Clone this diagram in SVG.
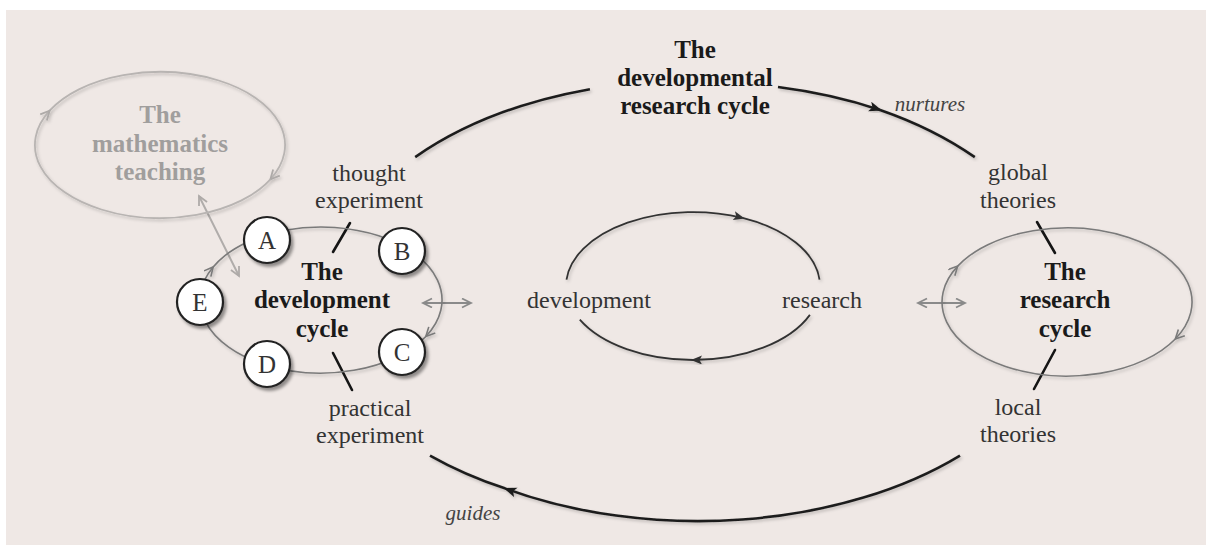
<svg xmlns="http://www.w3.org/2000/svg" width="1206" height="545" viewBox="0 0 1206 545">
<style>
  text { font-family: "Liberation Serif", "DejaVu Serif", serif; text-anchor: middle; }
  .lbl { font-size: 24px; fill: #333; }
  .ttl { font-size: 25px; font-weight: bold; fill: #1a1a1a; }
  .gry { font-size: 25px; font-weight: bold; fill: #a09e9d; }
  .ita { font-size: 21px; font-style: italic; fill: #444; }
  .ltr { font-size: 25px; fill: #333; }
  .big { fill: none; stroke: #1e1e1e; stroke-width: 2.6; }
  .mid { fill: none; stroke: #333; stroke-width: 1.8; }
  .cyc { fill: none; stroke: #7a7a7a; stroke-width: 1.6; }
  .pale { fill: none; stroke: #b8b4b2; stroke-width: 1.8; }
  .slash { stroke: #151515; stroke-width: 2.6; stroke-linecap: round; }
  .dbl { stroke: #8a8a8a; stroke-width: 1.8; fill: none; }
  .node { fill: #fff; stroke: #222; stroke-width: 2.2; }
</style>
<defs>
  <filter id="sh" x="-30%" y="-30%" width="170%" height="170%">
    <feDropShadow dx="2.5" dy="3" stdDeviation="1.8" flood-color="#000" flood-opacity="0.4"/>
  </filter>
  <filter id="shs" x="-10%" y="-10%" width="120%" height="120%">
    <feDropShadow dx="1.5" dy="2" stdDeviation="1.5" flood-color="#000" flood-opacity="0.2"/>
  </filter>
  <marker id="ahd" markerUnits="userSpaceOnUse" markerWidth="16" markerHeight="12" refX="11" refY="5" orient="auto">
    <path d="M0,0 L13,5 L0,10 L3,5 z" fill="#1e1e1e"/>
  </marker>
  <marker id="ahm" markerUnits="userSpaceOnUse" markerWidth="14" markerHeight="12" refX="9" refY="4.5" orient="auto">
    <path d="M0,0 L11,4.5 L0,9 L2.5,4.5 z" fill="#333"/>
  </marker>
  <marker id="ahg" markerUnits="userSpaceOnUse" markerWidth="14" markerHeight="14" refX="10" refY="5" orient="auto">
    <path d="M1,0.5 L10,5 L1,9.5" fill="none" stroke="#7a7a7a" stroke-width="1.6"/>
  </marker>
  <marker id="ahp" markerUnits="userSpaceOnUse" markerWidth="14" markerHeight="14" refX="10" refY="5" orient="auto-start-reverse">
    <path d="M1,0.5 L10,5 L1,9.5" fill="none" stroke="#aeaaa8" stroke-width="1.8"/>
  </marker>
  <marker id="ahx" markerUnits="userSpaceOnUse" markerWidth="14" markerHeight="14" refX="10" refY="5" orient="auto-start-reverse">
    <path d="M1,0.5 L10,5 L1,9.5" fill="none" stroke="#8a8a8a" stroke-width="1.8"/>
  </marker>
</defs>

<rect x="6" y="10" width="1200" height="535" fill="#efe8e5"/>

<g id="connectors">
  <!-- developmental research cycle (big loop) -->
  <path class="big" filter="url(#shs)" d="M415.2,157.1 A368,220 0 0 1 589.9,89.2"/>
  <path class="big" filter="url(#shs)" marker-end="url(#ahd)" d="M778,87 A368,220 0 0 1 880.1,109.9"/>
  <path class="big" filter="url(#shs)" d="M880.1,109.9 A368,220 0 0 1 974.8,157.1"/>
  <path class="big" filter="url(#shs)" marker-end="url(#ahd)" d="M960,455.6 A368,220 0 0 1 505.5,488.6"/>
  <path class="big" filter="url(#shs)" d="M505.5,488.6 A368,220 0 0 1 430,455.6"/>
  <!-- central development/research loop -->
  <path class="mid" filter="url(#shs)" marker-end="url(#ahm)" d="M566.5,279.6 A127,74 0 0 1 742.6,217.9"/>
  <path class="mid" filter="url(#shs)" d="M742.6,217.9 A127,74 0 0 1 819.5,279.6"/>
  <path class="mid" filter="url(#shs)" marker-end="url(#ahm)" d="M809.9,314.9 A127,74 0 0 1 693,360"/>
  <path class="mid" filter="url(#shs)" d="M693,360 A127,74 0 0 1 579.8,319.6"/>
  <!-- double arrows -->
  <line class="dbl" x1="423" y1="303" x2="471" y2="303" marker-start="url(#ahx)" marker-end="url(#ahx)"/>
  <line class="dbl" x1="918" y1="303" x2="965" y2="303" marker-start="url(#ahx)" marker-end="url(#ahx)"/>
  <!-- link between mathematics teaching and development cycle -->
  <line x1="199" y1="196" x2="239" y2="276" stroke="#b0acaa" stroke-width="2" marker-start="url(#ahp)" marker-end="url(#ahp)"/>
  <!-- slashes linking labels to cycles -->
  <line class="slash" x1="350" y1="223" x2="333" y2="252"/>
  <line class="slash" x1="333" y1="353" x2="352" y2="390"/>
  <line class="slash" x1="1037" y1="222" x2="1055" y2="253"/>
  <line class="slash" x1="1055" y1="350" x2="1034" y2="389"/>
</g>

<g id="title">
  <text class="ttl" x="695" y="58">The</text>
  <text class="ttl" x="695" y="86">developmental</text>
  <text class="ttl" x="695" y="114">research cycle</text>
  <text class="ita" x="930" y="111">nurtures</text>
  <text class="ita" x="473" y="520">guides</text>
</g>

<g id="math-teaching">
  <path class="pale" filter="url(#shs)" d="M49.6,110.7 A125,73 0 0 1 218.7,80.5 A125,73 0 0 1 270.4,179.3" marker-end="url(#ahp)"/>
  <path class="pale" filter="url(#shs)" d="M270.4,179.3 A125,73 0 0 1 101.3,209.5 A125,73 0 0 1 49.6,110.7" marker-end="url(#ahp)"/>
  <text class="gry" x="160" y="123">The</text>
  <text class="gry" x="160" y="152">mathematics</text>
  <text class="gry" x="160" y="180">teaching</text>
</g>

<g id="development-cycle">
  <path class="cyc" filter="url(#shs)" d="M213.2,266.9 A121,73 0 0 1 378.7,235.8 A121,73 0 0 1 425.8,336.5" marker-end="url(#ahg)"/>
  <path class="cyc" filter="url(#shs)" d="M425.8,336.5 A121,73 0 0 1 263.3,364.2 A121,73 0 0 1 213.2,266.9" marker-end="url(#ahg)"/>
  <text class="ttl" x="322" y="280">The</text>
  <text class="ttl" x="322" y="308">development</text>
  <text class="ttl" x="322" y="337">cycle</text>
</g>

<g id="node-A"><circle class="node" filter="url(#sh)" cx="267" cy="240" r="23"/><text class="ltr" x="267" y="249">A</text></g>
<g id="node-B"><circle class="node" filter="url(#sh)" cx="402" cy="251" r="23"/><text class="ltr" x="402" y="260">B</text></g>
<g id="node-C"><circle class="node" filter="url(#sh)" cx="402" cy="352" r="23"/><text class="ltr" x="402" y="361">C</text></g>
<g id="node-D"><circle class="node" filter="url(#sh)" cx="267" cy="364" r="23"/><text class="ltr" x="267" y="373">D</text></g>
<g id="node-E"><circle class="node" filter="url(#sh)" cx="200" cy="302" r="23"/><text class="ltr" x="200" y="311">E</text></g>

<g id="thought-experiment">
  <text class="lbl" x="369" y="181">thought</text>
  <text class="lbl" x="369" y="208">experiment</text>
</g>
<g id="practical-experiment">
  <text class="lbl" x="370" y="416">practical</text>
  <text class="lbl" x="370" y="443">experiment</text>
</g>
<g id="development">
  <text class="lbl" x="589" y="308">development</text>
</g>
<g id="research">
  <text class="lbl" x="822" y="308">research</text>
</g>

<g id="research-cycle">
  <path class="cyc" filter="url(#shs)" d="M957.7,266.1 A125,74 0 0 1 1128.6,237.6 A125,74 0 0 1 1175.3,339" marker-end="url(#ahg)"/>
  <path class="cyc" filter="url(#shs)" d="M1175.3,339 A125,74 0 0 1 1005.5,366.4 A125,74 0 0 1 957.7,266.1" marker-end="url(#ahg)"/>
  <text class="ttl" x="1065" y="280">The</text>
  <text class="ttl" x="1065" y="308">research</text>
  <text class="ttl" x="1065" y="337">cycle</text>
</g>
<g id="global-theories">
  <text class="lbl" x="1018" y="180">global</text>
  <text class="lbl" x="1018" y="208">theories</text>
</g>
<g id="local-theories">
  <text class="lbl" x="1018" y="415">local</text>
  <text class="lbl" x="1018" y="442">theories</text>
</g>
</svg>
